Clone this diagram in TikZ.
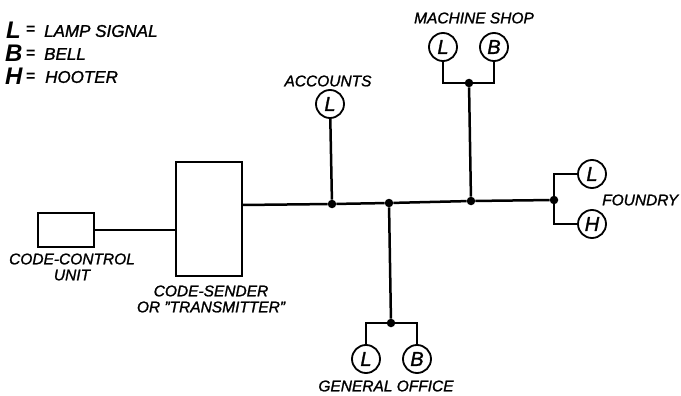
\documentclass[tikz,border=0pt]{standalone}
\usepackage{fontspec}
\setmainfont{Liberation Sans}[ItalicFeatures={FakeBold=1.3}]
\usetikzlibrary{positioning}
\tikzset{
  wire/.style={draw=black,line width=2.5pt},
  boxwire/.style={draw=black,line width=1.9pt},
  sig/.style={circle,draw=black,fill=white,line width=1.8pt,inner sep=0pt,
              minimum size=28pt,font=\fontsize{20}{20}\selectfont\itshape},
  dotj/.style={circle,fill=black,inner sep=0pt,minimum size=8.5pt},
  unitbox/.style={rectangle,draw=black,fill=white,line width=1.9pt,inner sep=0pt},
  lab/.style={inner sep=0pt,align=center,font=\fontsize{15.5}{16}\selectfont\itshape},
  keyl/.style={inner sep=0pt,anchor=west,font=\fontsize{24}{24}\selectfont\bfseries\itshape},
  keyt/.style={inner sep=0pt,anchor=west,font=\fontsize{17}{17}\selectfont\itshape},
  keyeq/.style={inner sep=0pt,anchor=west,font=\fontsize{16}{16}\selectfont\bfseries},
}
\begin{document}
\begin{tikzpicture}[x=1pt,y=-1pt]
\useasboundingbox (0,0) rectangle (681,396);
  % legend
  \node[keyl] (keyL) at (6,30) {L};
  \node[keyl] (keyB) at (5,53) {B};
  \node[keyl] (keyH) at (5,76) {H};
  \node[keyeq] (eqL) at (26,30) {=};
  \node[keyeq] (eqB) at (26,54) {=};
  \node[keyeq] (eqH) at (26,77) {=};
  \node[keyt] (txtL) at (44,31) {LAMP SIGNAL};
  \node[keyt] (txtB) at (44,54) {BELL};
  \node[keyt] (txtH) at (45,77) {HOOTER};
  % boxes
  \node[unitbox,minimum width=56pt,minimum height=34pt] (unit) at (66,230) {};
  \node[unitbox,minimum width=66pt,minimum height=114pt] (sender) at (209,219) {};
  \coordinate (sout) at (242,205);
  % junctions
  \node[dotj] (jacc) at (332,204) {};
  \node[dotj] (jgen) at (389,203) {};
  \node[dotj] (jshop) at (471,201) {};
  \node[dotj] (jfdy) at (554,200) {};
  \node[dotj] (jshopup) at (469,83) {};
  \node[dotj] (jgenlo) at (391,323) {};
  % signals
  \node[sig] (accL) at (330,104) {L};
  \node[sig] (shopL) at (443,47) {L};
  \node[sig] (shopB) at (494,47) {B};
  \node[sig] (fdyL) at (592,174) {L};
  \node[sig] (fdyH) at (592,224) {H};
  \node[sig] (genL) at (366,359) {L};
  \node[sig] (genB) at (417,359) {B};
  % wires
  \draw[boxwire] (unit.east) -- (unit.east -| sender.west);
  \draw[wire] (sout) -- (jacc) -- (jgen) -- (jshop) -- (jfdy);
  \draw[wire] (accL) -- (jacc);
  \draw[wire] (jshop) -- (jshopup);
  \draw[wire] (shopL) |- (jshopup);
  \draw[wire] (shopB) |- (jshopup);
  \draw[wire] (jgen) -- (jgenlo);
  \draw[wire] (genL) |- (jgenlo);
  \draw[wire] (genB) |- (jgenlo);
  \draw[wire] (fdyL) -| (jfdy);
  \draw[wire] (fdyH) -| (jfdy);
  % labels
  \node[lab] (lacc) at (328,81) {ACCOUNTS};
  \node[lab] (lshop) at (474,18) {MACHINE SHOP};
  \node[lab,anchor=west] (lfdy) at (602,200) {FOUNDRY};
  \node[lab] (lgen) at (386,386) {GENERAL OFFICE};
  \node[lab] (lunit) at (72,267) {CODE-CONTROL\\UNIT};
  \node[lab] (lsender) at (211,299) {CODE-SENDER\\OR "TRANSMITTER"};
\end{tikzpicture}
\end{document}
